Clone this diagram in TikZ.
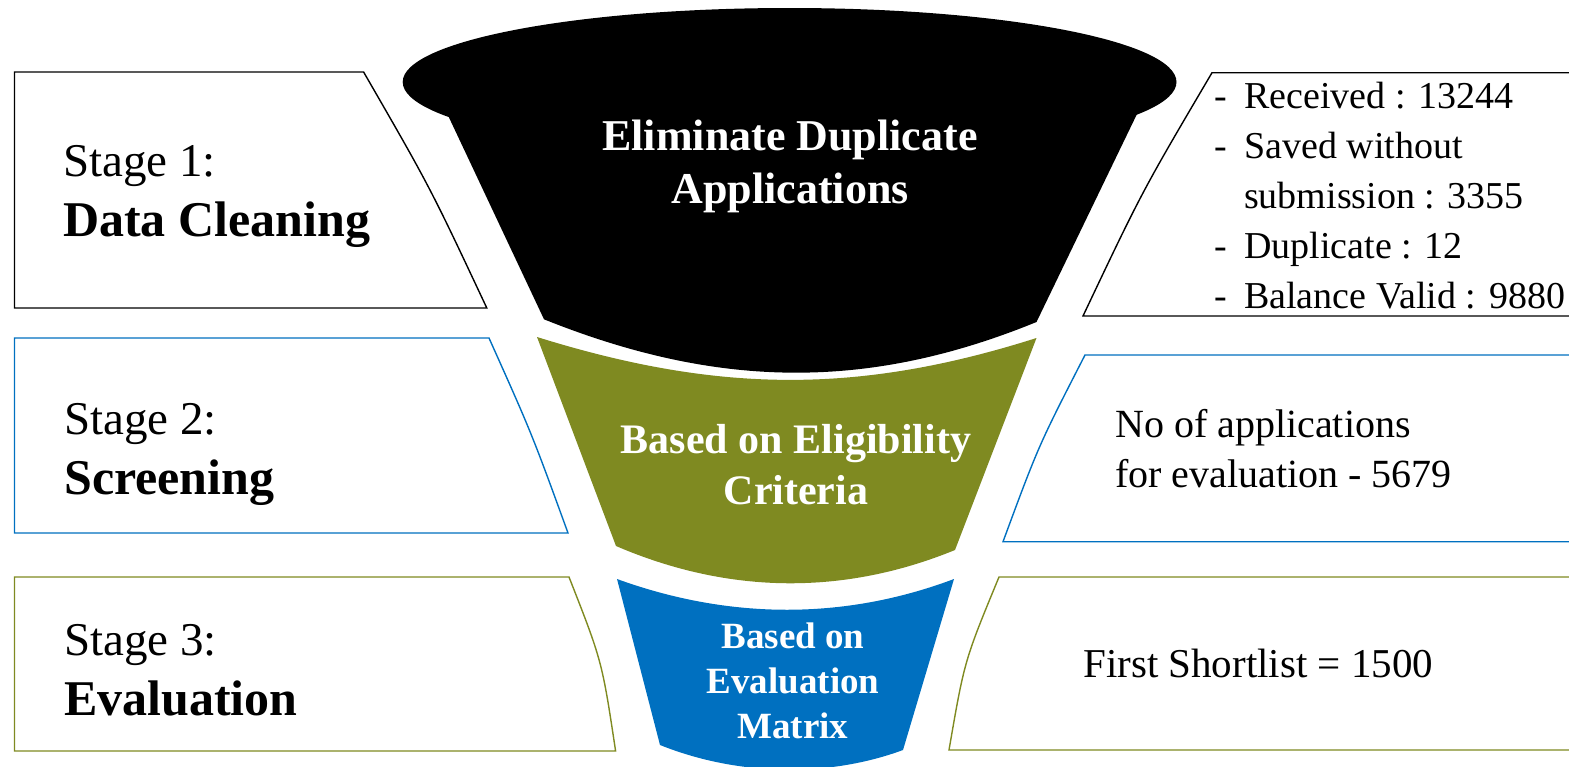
\documentclass[tikz,border=0pt]{standalone}
\usepackage{fontspec}
\setmainfont{Liberation Serif}
\usetikzlibrary{positioning}

\definecolor{olivefun}{RGB}{127,138,33}
\definecolor{bluefun}{RGB}{0,112,192}

\tikzstyle{stagebox} = [line width=1.4pt, fill=white]
\tikzstyle{stagetext} = [anchor=base west, align=left, inner sep=0pt, font=\fontsize{47}{60}\selectfont]
\tikzstyle{infotext} = [anchor=base west, align=left, inner sep=0pt, font=\fontsize{38}{49.8}\selectfont]
\tikzstyle{funneltext} = [anchor=base, align=center, inner sep=0pt, text=white, font=\bfseries\fontsize{44}{53}\selectfont]

\newcommand{\dashline}[1]{\makebox[30pt][l]{-}#1}
\newcommand{\stagename}[1]{{\bfseries\fontsize{50}{60}\selectfont #1}}

\begin{document}
\begin{tikzpicture}[x=1pt,y=-1pt]
\clip (0,0) rectangle (1569,766);

% funnel
\fill[black] (789.6,82) ellipse [x radius=386.9pt, y radius=74pt];
\fill[black] (448.3,105) -- (448.3,116) -- (544,319.3) .. controls (720,390) and (870,390) .. (1036.5,322) -- (1137,114) -- (1137,105) -- cycle;
\fill[olivefun] (537,337) .. controls (720,394) and (860,394) .. (1036.5,338) -- (955,550) .. controls (845,595) and (730,595) .. (616,546) -- cycle;
\fill[bluefun] (617,579) .. controls (730,620) and (845,620) .. (954,579) -- (903,750) .. controls (830,777) and (740,777) .. (660,745) -- cycle;

% left boxes
\draw[stagebox, draw=black] (14.5,72) -- (363.6,72) .. controls (430,187) .. (486.8,308) -- (14.5,308) -- cycle;
\draw[stagebox, draw=bluefun] (14.5,338) -- (489,338) .. controls (532,434) .. (568,533) -- (14.5,533) -- cycle;
\draw[stagebox, draw=olivefun] (14.5,577) -- (569,577) .. controls (602,661) .. (615.6,751) -- (14.5,751) -- cycle;

% right boxes
\draw[stagebox, draw=black] (1600,72.7) -- (1212,72.7) .. controls (1142,191.5) .. (1083,316) -- (1600,316);
\draw[stagebox, draw=bluefun] (1600,355) -- (1085,355) .. controls (1038.5,445.6) .. (1003,541.7) -- (1600,541.7);
\draw[stagebox, draw=olivefun] (1600,577) -- (999,577) .. controls (964.4,660.7) .. (949,750) -- (1600,750);

% texts (base = last line)
\node (st1) [stagetext] at (63,236) {Stage 1:\\\stagename{Data Cleaning}};
\node (st2) [stagetext] at (64,494) {Stage 2:\\\stagename{Screening}};
\node (st3) [stagetext] at (64,715) {Stage 3:\\\stagename{Evaluation}};

\node (fn1) [funneltext] at (790,203) {Eliminate Duplicate\\Applications};
\node (fn2) [funneltext, font=\bfseries\fontsize{42}{51}\selectfont] at (796,504) {Based on Eligibility\\Criteria};
\node (fn3) [funneltext, font=\bfseries\fontsize{37}{45}\selectfont] at (793,738) {Based on\\Evaluation\\Matrix};

\node (inf1) [infotext] at (1214,308) {\dashline{Received : 13244}\\\dashline{Saved without}\\\hspace*{30pt}submission : 3355\\\dashline{Duplicate : 12}\\\dashline{Balance Valid : 9880}};
\node (inf2) [infotext, font=\fontsize{40}{50}\selectfont] at (1115,487) {No of applications\\for evaluation - 5679};
\node (inf3) [infotext, font=\fontsize{41}{50}\selectfont] at (1083,677) {First Shortlist = 1500};

\end{tikzpicture}
\end{document}
